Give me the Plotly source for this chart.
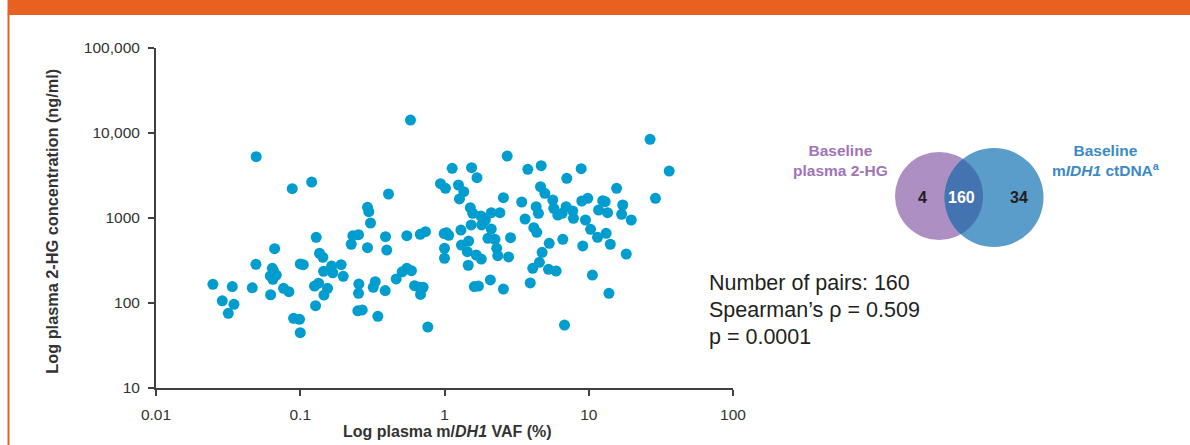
import numpy as np
import plotly.graph_objects as go

W, H = 1190, 445

# ---------------- data ----------------
vaf_pct = [
    0.0248, 0.0288, 0.0317, 0.0338, 0.0347, 0.0465, 0.0493, 0.0623, 0.064, 0.0653,
    0.0682, 0.062, 0.0646, 0.0664, 0.0766, 0.0834, 0.0899, 0.0989, 0.100, 0.100,
    0.105, 0.129, 0.136, 0.1435, 0.1256, 0.134, 0.1277, 0.145, 0.1546, 0.146,
    0.165, 0.168, 0.192, 0.1986, 0.2256, 0.2316, 0.2535, 0.2925, 0.2986, 0.307,
    0.2925, 0.2547, 0.2535, 0.2507, 0.269, 0.331, 0.3206, 0.345, 0.388, 0.390,
    0.398, 0.409, 0.4626, 0.0495, 0.088, 0.120,
    0.581, 0.548, 0.679, 0.738, 0.995, 1.03, 1.07, 1.0, 1.0, 1.13,
    0.938, 1.016, 0.509, 0.548, 0.590, 0.62, 0.671, 0.711, 0.682, 0.766,
    2.72, 1.54, 1.68, 1.25, 1.36, 1.27, 2.56, 3.78, 4.68, 7.04,
    4.63, 4.96, 3.43, 1.51, 1.57, 1.79, 1.92, 1.81, 2.11, 2.42,
    1.53, 1.30, 2.11, 2.0, 2.24, 2.87, 1.47, 1.31, 1.44, 2.30,
    2.34, 1.66, 1.80, 2.78, 1.46, 4.32, 4.48, 3.62, 4.16, 4.36,
    5.63, 5.72, 6.10, 6.54, 6.97, 5.32, 6.61, 4.75, 4.55, 4.09,
    5.26, 5.94, 3.93, 1.61, 1.72, 2.08, 2.56, 6.79,
    26.6, 36.1, 8.86, 15.6, 29.0, 8.95, 9.84, 12.5, 13.0, 17.2,
    7.75, 7.83, 11.7, 13.5, 16.9, 19.7, 9.49, 10.3, 11.5, 13.2,
    14.1, 9.09, 18.2, 10.6, 13.8,
]
hg_ngml = [
    166, 106, 75.7, 156, 96.6, 151, 285, 125, 256, 238,
    213, 208, 190, 435, 149, 136, 66, 64.3, 44.8, 288,
    282, 593, 385, 345, 158, 171, 92.9, 236, 149, 124,
    272, 227, 282, 206, 491, 619, 637, 1336, 1186, 873,
    448, 167, 130, 81, 82.8, 178, 153, 69.8, 140, 603,
    420, 1916, 192, 5260, 2210, 2650,
    14200, 619, 643, 690, 655, 672, 625, 440, 336, 3845,
    2534, 2235, 233, 256, 240, 160, 153, 153, 126, 52.2,
    5360, 3908, 2978, 2445, 2040, 1674, 1734, 3740, 4125, 2930,
    2335, 1953, 1543, 1322, 1135, 1056, 947, 828, 1155, 1155,
    828, 722, 742, 577, 561, 587, 536, 481, 401, 440,
    360, 367, 329, 348, 278, 1358, 1135, 973, 769, 679,
    1629, 1300, 1084, 1135, 1358, 504, 561, 395, 301, 256,
    249, 238, 172, 156, 158, 187, 146, 55,
    8430, 3570, 3803, 2235, 1706, 1585, 1706, 1598, 1556, 1422,
    1208, 992, 1242, 1155, 1106, 947, 947, 736, 593, 661,
    491, 469, 377, 213, 130,
]

x_tickvals = [0.01, 0.1, 1, 10, 100]
x_ticktext = ["0.01", "0.1", "1", "10", "100"]
y_tickvals = [10, 100, 1000, 10000, 100000]
y_ticktext = ["10", "100", "1000", "10,000", "100,000"]

venn_only_hg = 4
venn_both = 160
venn_only_dna = 34
n_pairs = 160
spearman_rho = "0.509"
p_value = "0.0001"

# ---------------- helpers: pixel -> paper ----------------
def px(x):
    return x / W


def py(y):
    return 1 - y / H


FONT = "Liberation Sans, Arial, Helvetica, sans-serif"
AXIS_COLOR = "#404040"
DOT = "#009DCE"

fig = go.Figure(
    go.Scatter(
        x=vaf_pct, y=hg_ngml, mode="markers",
        marker=dict(size=11, color=DOT, line=dict(width=0)),
        showlegend=False,
    )
)

axis_common = dict(
    type="log", ticks="outside", ticklen=6, tickwidth=1.5, tickcolor=AXIS_COLOR,
    showline=True, linecolor=AXIS_COLOR, linewidth=2, showgrid=False,
    zeroline=False, tickfont=dict(size=15.5, color="#333333", family=FONT),
    automargin=False, ticklabelstandoff=5,
)

fig.update_layout(
    width=W, height=H,
    margin=dict(l=0, r=0, t=0, b=0, pad=0),
    paper_bgcolor="white", plot_bgcolor="white",
    font=dict(family=FONT, color="#333333"),
    xaxis=dict(axis_common, range=[-2, 2], domain=[px(156), px(733)],
               tickvals=x_tickvals, ticktext=x_ticktext),
    yaxis=dict(axis_common, range=[1, 5], domain=[py(388), py(48)],
               tickvals=y_tickvals, ticktext=y_ticktext),
)

shapes = []
# orange header band and left frame line
shapes.append(dict(type="rect", xref="paper", yref="paper", x0=px(7.5), x1=1,
                   y0=py(15), y1=1, fillcolor="#E86120", line=dict(width=0), layer="below"))
shapes.append(dict(type="rect", xref="paper", yref="paper", x0=px(7.5), x1=px(9.5),
                   y0=0, y1=py(14), fillcolor="#E86120", line=dict(width=0), layer="below"))

# Venn diagram
cA, rA = (939.0, 196.0), 44.0
cB, rB = (994.0, 197.5), 49.5


def circle(c, r, color):
    return dict(type="circle", xref="paper", yref="paper",
                x0=px(c[0] - r), x1=px(c[0] + r), y0=py(c[1] + r), y1=py(c[1] - r),
                fillcolor=color, line=dict(width=0), layer="above")


shapes.append(circle(cA, rA, "#AE8FC3"))
shapes.append(circle(cB, rB, "#5A9DCA"))

t = np.linspace(0, 2 * np.pi, 1441)
ax_, ay_ = cA[0] + rA * np.cos(t), cA[1] + rA * np.sin(t)
bx_, by_ = cB[0] + rB * np.cos(t), cB[1] + rB * np.sin(t)
inB = (ax_ - cB[0]) ** 2 + (ay_ - cB[1]) ** 2 <= rB ** 2
inA = (bx_ - cA[0]) ** 2 + (by_ - cA[1]) ** 2 <= rA ** 2
lx = np.concatenate([ax_[inB], bx_[inA]])
ly = np.concatenate([ay_[inB], by_[inA]])
order = np.argsort(np.arctan2(ly - ly.mean(), lx - lx.mean()))
lens = "M " + " L ".join(f"{px(a):.5f},{py(b):.5f}" for a, b in zip(lx[order], ly[order])) + " Z"
shapes.append(dict(type="path", xref="paper", yref="paper", path=lens,
                   fillcolor="#4373B1", line=dict(width=0), layer="above"))

fig.update_layout(shapes=shapes)

ann = []
# axis titles
ann.append(dict(text="<b>Log plasma m/<i>DH1</i> VAF (%)</b>", x=px(447), y=py(431),
                xref="paper", yref="paper", showarrow=False, xanchor="center", yanchor="middle",
                font=dict(size=16, color="#333333", family=FONT)))
ann.append(dict(text="<b>Log plasma 2-HG concentration (ng/ml)</b>", x=px(52), y=py(221.7),
                xref="paper", yref="paper", showarrow=False, textangle=-90,
                xanchor="center", yanchor="middle",
                font=dict(size=16.3, color="#333333", family=FONT)))

# Venn labels
ann.append(dict(text="<b>Baseline<br>plasma 2-HG</b>", x=px(840), y=py(160.5),
                xref="paper", yref="paper", showarrow=False, align="center",
                xanchor="center", yanchor="middle",
                font=dict(size=15.5, color="#A074B7", family=FONT)))
ann.append(dict(text="<b>Baseline<br>m<i>IDH1</i> ctDNA<sup>a</sup></b>", x=px(1106), y=py(160.5),
                xref="paper", yref="paper", showarrow=False, align="center",
                xanchor="center", yanchor="middle",
                font=dict(size=15.5, color="#3B8AC4", family=FONT)))
for val, xx, col in [(venn_only_hg, 922.3, "#231F20"), (venn_both, 961.7, "white"),
                     (venn_only_dna, 1018.7, "#231F20")]:
    ann.append(dict(text=f"<b>{val}</b>", x=px(xx), y=py(197.3), xref="paper", yref="paper",
                    showarrow=False, xanchor="center", yanchor="middle",
                    font=dict(size=16, color=col, family=FONT)))

# statistics text
stats = [f"Number of pairs: {n_pairs}", f"Spearman\u2019s \u03c1 = {spearman_rho}", f"p = {p_value}"]
for line, yy in zip(stats, [283.3, 310.0, 336.7]):
    ann.append(dict(text=line, x=px(707), y=py(yy), xref="paper", yref="paper",
                    showarrow=False, xanchor="left", yanchor="middle",
                    font=dict(size=21.5, color="#231F20", family=FONT)))

fig.update_layout(annotations=ann)

fig.write_html("out.html", config={"displayModeBar": False},
               post_script="document.body.style.margin='0';")
